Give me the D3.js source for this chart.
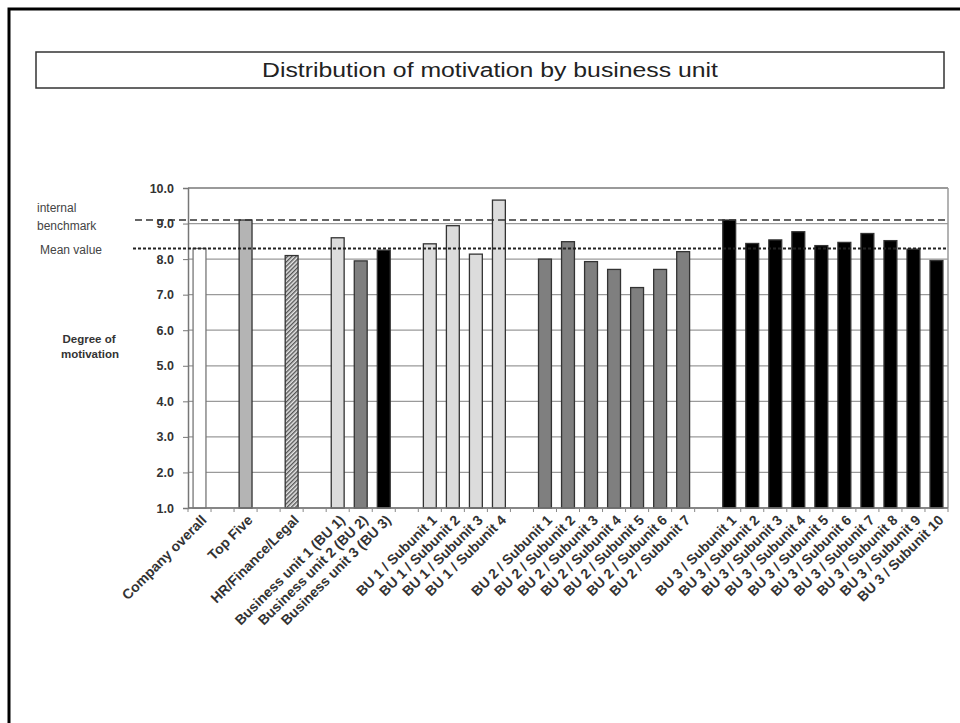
<!DOCTYPE html>
<html>
<head>
<meta charset="utf-8">
<script src="https://cdn.jsdelivr.net/npm/d3@7"></script>
<style>
  body { margin: 0; background: #fff; }
  svg { display: block; font-family: "Liberation Sans", Arial, sans-serif; }
</style>
</head>
<body>
<svg width="960" height="723"></svg>
<script>
// slots in display order, "" = empty spacer slot
var categories = ["Company overall", "", "Top Five", "", "HR/Finance/Legal", "",
  "Business unit 1 (BU 1)", "Business unit 2 (BU 2)", "Business unit 3 (BU 3)", "",
  "BU 1 / Subunit 1", "BU 1 / Subunit 2", "BU 1 / Subunit 3", "BU 1 / Subunit 4", "",
  "BU 2 / Subunit 1", "BU 2 / Subunit 2", "BU 2 / Subunit 3", "BU 2 / Subunit 4",
  "BU 2 / Subunit 5", "BU 2 / Subunit 6", "BU 2 / Subunit 7", "",
  "BU 3 / Subunit 1", "BU 3 / Subunit 2", "BU 3 / Subunit 3", "BU 3 / Subunit 4",
  "BU 3 / Subunit 5", "BU 3 / Subunit 6", "BU 3 / Subunit 7", "BU 3 / Subunit 8",
  "BU 3 / Subunit 9", "BU 3 / Subunit 10"];

var values = [8.3, null, 9.1, null, 8.1, null,
  8.6, 7.95, 8.25, null,
  8.43, 8.94, 8.14, 9.66, null,
  8.0, 8.49, 7.93, 7.71, 7.2, 7.71, 8.21, null,
  9.1, 8.44, 8.54, 8.77, 8.38, 8.47, 8.72, 8.52, 8.28, 7.96];

var groups = ["overall", null, "top", null, "hr", null,
  "bu1", "bu2", "bu3", null,
  "bu1", "bu1", "bu1", "bu1", null,
  "bu2", "bu2", "bu2", "bu2", "bu2", "bu2", "bu2", null,
  "bu3", "bu3", "bu3", "bu3", "bu3", "bu3", "bu3", "bu3", "bu3", "bu3"];

var yTicks = [1, 2, 3, 4, 5, 6, 7, 8, 9, 10];
var benchmark = 9.1;
var meanValue = 8.3;
var title = "Distribution of motivation by  business unit";

var svg = d3.select("svg");

var margin = {left: 188, right: 12, top: 188, bottom: 215};
var W = 960, H = 723;

var x = d3.scaleBand()
    .domain(d3.range(categories.length))
    .range([margin.left, W - margin.right])
    .paddingInner(0.44)
    .paddingOuter(0.22);

var y = d3.scaleLinear()
    .domain([1, 10])
    .range([H - margin.bottom, margin.top]);

var fill = d3.scaleOrdinal()
    .domain(["overall", "top", "hr", "bu1", "bu2", "bu3"])
    .range(["#ffffff", "#b4b4b4", "url(#hatch)", "#dcdcdc", "#7f7f7f", "#000000"]);

// hatch pattern for HR bar
var defs = svg.append("defs");
var pat = defs.append("pattern")
    .attr("id", "hatch")
    .attr("patternUnits", "userSpaceOnUse")
    .attr("width", 3).attr("height", 3)
    .attr("patternTransform", "rotate(-45)");
pat.append("rect").attr("width", 3).attr("height", 3).attr("fill", "#e6e6e6");
pat.append("rect").attr("width", 3).attr("height", 1.4).attr("fill", "#555");

// outer frame
svg.append("rect")
    .attr("x", 9).attr("y", 9)
    .attr("width", 960).attr("height", 720)
    .attr("fill", "none")
    .attr("stroke", "#000")
    .attr("stroke-width", 3);

// title box
svg.append("rect")
    .attr("x", 36).attr("y", 52)
    .attr("width", 908).attr("height", 36)
    .attr("fill", "#fff")
    .attr("stroke", "#333")
    .attr("stroke-width", 1.5);

svg.append("text")
    .attr("x", 490).attr("y", 77)
    .attr("text-anchor", "middle")
    .style("font-family", "'Liberation Sans Narrow', 'Liberation Sans', Arial, sans-serif")
    .style("font-size", "20px")
    .attr("fill", "#222")
    .attr("textLength", 456)
    .attr("lengthAdjust", "spacingAndGlyphs")
    .text(title);

// gridlines
svg.append("g")
    .selectAll("line")
    .data(yTicks)
    .enter().append("line")
      .attr("x1", margin.left).attr("x2", W - margin.right)
      .attr("y1", function(d) { return y(d); })
      .attr("y2", function(d) { return y(d); })
      .attr("stroke", "#9a9a9a")
      .attr("stroke-width", function(d) { return d == 10 ? 2 : 1.3; });

// right border of plot
svg.append("line")
    .attr("x1", W - margin.right).attr("x2", W - margin.right)
    .attr("y1", y(10)).attr("y2", y(1))
    .attr("stroke", "#9a9a9a").attr("stroke-width", 1.5);

// y axis
var yAxis = svg.append("g")
    .attr("transform", "translate(" + margin.left + ",0)")
    .call(d3.axisLeft(y).tickValues(yTicks).tickSize(5).tickPadding(9)
      .tickFormat(d3.format(".1f")));
yAxis.select(".domain").attr("stroke", "#777").attr("stroke-width", 1.5);
yAxis.selectAll(".tick line").attr("stroke", "#777");
yAxis.selectAll("text")
    .style("font-size", "12.5px")
    .style("font-weight", "bold")
    .attr("fill", "#333");

// bars
svg.append("g")
    .selectAll("rect")
    .data(values.map(function(v, i) { return {i: i, v: v, g: groups[i]}; })
      .filter(function(d) { return d.v != null; }))
    .enter().append("rect")
      .attr("x", function(d) { return x(d.i); })
      .attr("width", x.bandwidth())
      .attr("y", function(d) { return y(d.v); })
      .attr("height", function(d) { return y(1) - y(d.v); })
      .attr("fill", function(d) { return fill(d.g); })
      .attr("stroke", function(d) { return d.g == "overall" ? "#777" : "#333"; })
      .attr("stroke-width", 1.3);

// x axis
var xAxis = svg.append("g")
    .attr("transform", "translate(0," + y(1) + ")");
xAxis.append("line")
    .attr("x1", margin.left).attr("x2", W - margin.right)
    .attr("stroke", "#777").attr("stroke-width", 1.5);
xAxis.selectAll(".tk")
    .data(d3.range(categories.length + 1))
    .enter().append("line")
      .attr("class", "tk")
      .attr("x1", function(d) { return margin.left + d * x.step(); })
      .attr("x2", function(d) { return margin.left + d * x.step(); })
      .attr("y1", 0).attr("y2", 4)
      .attr("stroke", "#888");

xAxis.selectAll("text")
    .data(categories.map(function(c, i) { return {c: c, i: i}; })
      .filter(function(d) { return d.c != ""; }))
    .enter().append("text")
      .attr("transform", function(d) {
        return "translate(" + (x(d.i) + x.bandwidth() / 2 + 8) + ",13) rotate(-45)";
      })
      .attr("text-anchor", "end")
      .style("font-size", "14px")
      .style("font-weight", "bold")
      .attr("fill", "#333")
      .text(function(d) { return d.c; });

// reference lines
svg.append("line")
    .attr("x1", 135).attr("x2", W - margin.right)
    .attr("y1", y(benchmark)).attr("y2", y(benchmark))
    .attr("stroke", "#333").attr("stroke-width", 1.3)
    .attr("stroke-dasharray", "7,4");

svg.append("line")
    .attr("x1", 133).attr("x2", W - margin.right)
    .attr("y1", y(meanValue)).attr("y2", y(meanValue))
    .attr("stroke", "#222").attr("stroke-width", 2)
    .attr("stroke-dasharray", "3,2");

// left side labels
var side = svg.append("g").attr("fill", "#444").style("font-size", "12px");
side.append("text").attr("x", 37).attr("y", 212).text("internal");
side.append("text").attr("x", 37).attr("y", 230).text("benchmark");
side.append("text").attr("x", 40).attr("y", 254).text("Mean value");

var dm = svg.append("g").attr("fill", "#333")
    .style("font-size", "11.5px").style("font-weight", "bold")
    .attr("text-anchor", "middle");
dm.append("text").attr("x", 89).attr("y", 343).text("Degree of");
dm.append("text").attr("x", 90).attr("y", 358).text("motivation");
</script>
</body>
</html>
